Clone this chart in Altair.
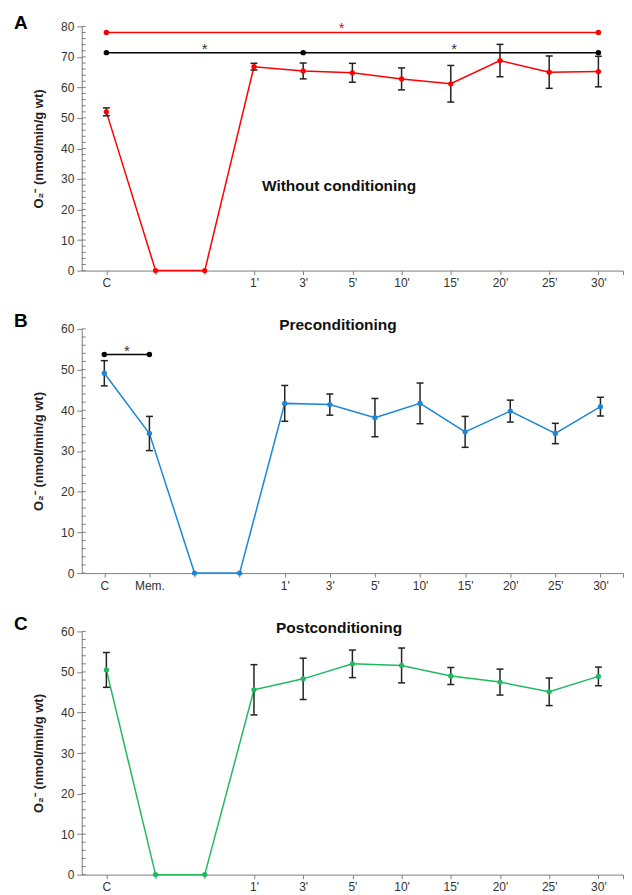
import json
import altair as alt
import pandas as pd

FONT = "Liberation Sans"
YTITLE = "O₂⁻ (nmol/min/g wt)"

# ---------------- data ----------------
a_labels = ["C", "", "", "1'", "3'", "5'", "10'", "15'", "20'", "25'", "30'"]
a_values = [52.0, 0, 0, 66.8, 65.4, 64.8, 62.8, 61.2, 68.8, 65.0, 65.2]
a_errors = [1.3, None, None, 1.1, 2.6, 3.1, 3.6, 6.0, 5.3, 5.3, 5.0]

b_labels = ["C", "Mem.", "", "", "1'", "3'", "5'", "10'", "15'", "20'", "25'", "30'"]
b_values = [49.1, 34.3, 0, 0, 41.7, 41.4, 38.2, 41.7, 34.7, 39.8, 34.3, 40.9]
b_errors = [3.1, 4.2, None, None, 4.4, 2.6, 4.7, 5.0, 3.8, 2.7, 2.5, 2.3]

c_labels = ["C", "", "", "1'", "3'", "5'", "10'", "15'", "20'", "25'", "30'"]
c_values = [50.5, 0, 0, 45.6, 48.3, 52.0, 51.6, 49.0, 47.5, 45.1, 48.9]
c_errors = [4.3, None, None, 6.2, 5.1, 3.4, 4.3, 2.1, 3.2, 3.4, 2.3]

# significance brackets: (start index, end index, level, colour)
a_sig_lines = [(0, 10, 78.0, "#ff0000"), (0, 10, 71.4, "#000000")]
a_sig_dots = [(0, 78.0, "#ff0000"), (10, 78.0, "#ff0000"),
              (0, 71.4, "#000000"), (4, 71.4, "#000000"), (10, 71.4, "#000000")]
a_stars = [(4.78, 78.0, "#ff0000"), (2.0, 71.4, "#333333"), (7.07, 71.4, "#333333")]

b_sig_lines = [(0, 1, 53.7, "#000000")]
b_sig_dots = [(0, 53.7, "#000000"), (1, 53.7, "#000000")]
b_stars = [(0.5, 53.7, "#333333")]

# panel titles: (text, x index, y value)
a_title = ("Without conditioning", 4.73, 27.7)
b_title = ("Preconditioning", 5.18, 60.9)
c_title = ("Postconditioning", 4.73, 60.9)


def panel(letter, labels, values, errors, color, ymax, width, height,
          sig_lines, sig_dots, stars, ptitle):
    n = len(labels)
    df = pd.DataFrame({"i": list(range(n)), "v": values, "e": errors})
    err = df.dropna().copy()
    err["lo"] = err["v"] - err["e"]
    err["hi"] = err["v"] + err["e"]

    lab_arr = json.dumps(labels)
    xscale = alt.Scale(domain=[-0.5, n - 0.5], nice=False, zero=False)
    yscale = alt.Scale(domain=[0, ymax], nice=False, zero=True)
    xaxis = alt.Axis(values=list(range(n)) + [n - 0.5],
                     labelExpr=f"(datum.value >= 0 && datum.value <= {n-1} && datum.value == floor(datum.value)) ? {lab_arr}[datum.value] : ''",
                     grid=False, tickSize=4, labelPadding=3, labelAngle=0,
                     labelFlush=False, labelOverlap=False)
    yaxis = alt.Axis(values=list(range(0, ymax + 1, 10)), grid=False,
                     tickSize=5, labelPadding=3, titlePadding=15)

    def X(field):
        return alt.X(field, scale=xscale, axis=xaxis, title=None)

    def Y(field):
        return alt.Y(field, scale=yscale, axis=yaxis, title=YTITLE)

    base = alt.Chart(df)
    line = base.mark_line(color=color, strokeWidth=1.5).encode(x=X("i:Q"), y=Y("v:Q"))
    pts = base.mark_circle(color=color, size=28, opacity=1).encode(x=X("i:Q"), y=Y("v:Q"))

    ebase = alt.Chart(err)
    erule = ebase.mark_rule(color="#222222", strokeWidth=1.5).encode(
        x=X("i:Q"), y=Y("lo:Q"), y2="hi:Q")
    ecap = ebase.transform_fold(["lo", "hi"], as_=["k", "cap"]).mark_tick(
        color="#222222", orient="horizontal", size=7, thickness=1.5, opacity=1).encode(
        x=X("i:Q"), y=Y("cap:Q"))

    minor = alt.Chart(pd.DataFrame({"m": list(range(0, ymax + 1, 2))})).mark_rule(
        color="#808080", strokeWidth=1).encode(
        y=Y("m:Q"), x=alt.value(0), x2=alt.value(4))

    layers = [minor, line, erule, ecap, pts]

    if sig_lines:
        sl = pd.DataFrame(sig_lines, columns=["x1", "x2", "y", "c"])
        sd = pd.DataFrame(sig_dots, columns=["x", "y", "c"])
        st = pd.DataFrame(stars, columns=["x", "y", "c"])
        layers.append(alt.Chart(sl).mark_rule(strokeWidth=1.5).encode(
            x=X("x1:Q"), x2="x2:Q", y=Y("y:Q"), color=alt.Color("c:N", scale=None)))
        layers.append(alt.Chart(sd).mark_circle(size=30, opacity=1).encode(
            x=X("x:Q"), y=Y("y:Q"), color=alt.Color("c:N", scale=None)))
        layers.append(alt.Chart(st).mark_text(text="*", font=FONT, fontSize=15,
                                               baseline="middle", dy=-4).encode(
            x=X("x:Q"), y=Y("y:Q"), color=alt.Color("c:N", scale=None)))

    tt = pd.DataFrame([ptitle], columns=["t", "x", "y"])
    layers.append(alt.Chart(tt).mark_text(font=FONT, fontSize=15.5, fontWeight="bold",
                                          color="#111111", baseline="middle").encode(
        x=X("x:Q"), y=Y("y:Q"), text="t:N"))

    return alt.layer(*layers).properties(
        width=width, height=height,
        title=alt.TitleParams(letter, anchor="start", frame="group", dx=-68, dy=13,
                              font=FONT, fontSize=19, fontWeight="bold", color="#000000",
                              offset=0))


pa = panel("A", a_labels, a_values, a_errors, "#ff0000", 80, 543, 245,
           a_sig_lines, a_sig_dots, a_stars, a_title)
pb = panel("B", b_labels, b_values, b_errors, "#1f86d6", 60, 543, 245,
           b_sig_lines, b_sig_dots, b_stars, b_title)
pc = panel("C", c_labels, c_values, c_errors, "#22b862", 60, 543, 244,
           [], [], [], c_title)

chart = alt.vconcat(pa, pb, pc, spacing=23.5).properties(
    padding={"left": 6, "top": 5, "right": 0, "bottom": 0}
).configure_view(stroke=None).configure_axis(
    domainColor="#808080", tickColor="#808080", labelColor="#333333",
    labelFont=FONT, labelFontSize=12, titleFont=FONT, titleFontSize=13,
    titleFontWeight="bold", titleColor="#222222"
)

chart.save("out.html", embed_options={"renderer": "svg", "actions": False})
